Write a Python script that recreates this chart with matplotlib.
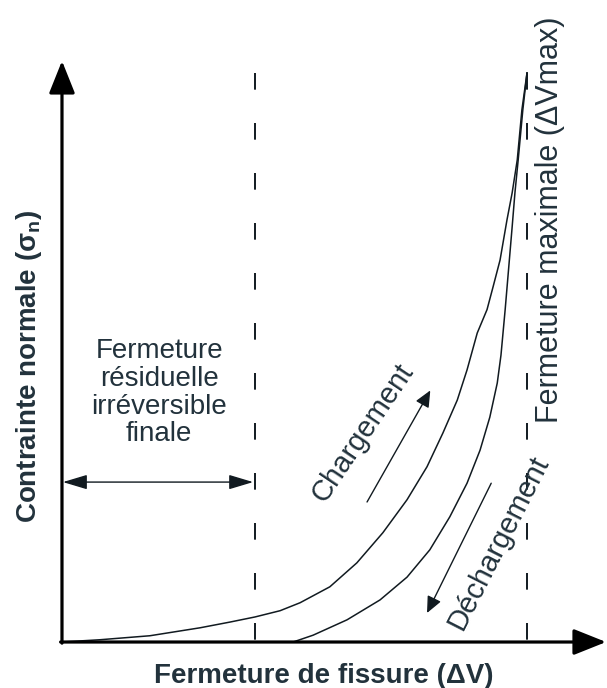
import numpy as np
import matplotlib
matplotlib.use("Agg")
import matplotlib.pyplot as plt

plt.rcParams['font.family'] = ['Liberation Sans', 'DejaVu Sans']
plt.rcParams['mathtext.fontset'] = 'custom'
plt.rcParams['mathtext.rm'] = 'Liberation Sans'
plt.rcParams['mathtext.bf'] = 'Liberation Sans:bold'
plt.rcParams['lines.scale_dashes'] = False

# normalised values: dV / dVmax and sigma / sigma_max
load_x = [0.000, 0.082, 0.189, 0.297, 0.361, 0.415, 0.469, 0.512, 0.576, 0.634,
          0.690, 0.742, 0.785, 0.819, 0.850, 0.871, 0.893, 0.914, 0.927,
          0.942, 0.957, 0.968, 0.979, 0.989, 1.000]
load_y = [0.000, 0.004, 0.011, 0.025, 0.035, 0.044, 0.055, 0.069, 0.097, 0.139,
          0.192, 0.250, 0.308, 0.367, 0.425, 0.478, 0.543, 0.584, 0.624,
          0.671, 0.742, 0.789, 0.847, 0.935, 1.000]
unload_x = [0.497, 0.540, 0.613, 0.684, 0.742, 0.791, 0.834, 0.871, 0.899, 0.920,
            0.936, 0.944, 0.953, 0.959, 0.968, 0.974, 0.981, 0.991, 1.000]
unload_y = [0.000, 0.012, 0.039, 0.074, 0.114, 0.162, 0.220, 0.279, 0.337, 0.395,
            0.455, 0.504, 0.584, 0.642, 0.729, 0.789, 0.847, 0.935, 1.000]
dv_residual = 0.415   # residual irreversible closure
dv_max = 1.0          # maximal closure

txt = '#22323c'
ink = '#111a20'

fig = plt.figure(figsize=(6.07, 6.88), dpi=100)
ax = fig.add_axes([0, 0, 1, 1])
ax.set_xlim(-0.1333, 1.172)
ax.set_ylim(-0.0808, 1.128)
ax.axis('off')

# axes with arrows
big = dict(arrowstyle='-|>,head_length=1.0,head_width=0.4', mutation_scale=20,
           lw=2.3, color='black', shrinkA=0, shrinkB=0)
ax.annotate('', xy=(1.17, 0), xytext=(-0.003, 0), arrowprops=big)
ax.annotate('', xy=(0, 1.021), xytext=(0, -0.002), arrowprops=big)

# dashed limits
for xv in [dv_residual, dv_max]:
    ax.plot([xv, xv], [1.0, 0.0], color=ink, lw=1.4, dashes=(12, 24))

# loading / unloading curves
ax.plot(load_x, load_y, color=ink, lw=1.1, solid_joinstyle='round')
ax.plot(unload_x, unload_y, color=ink, lw=1.1, solid_joinstyle='round')

# direction arrows
small = dict(arrowstyle='-|>,head_length=1.0,head_width=0.45', mutation_scale=10,
             lw=1.0, color=ink, shrinkA=0, shrinkB=0)
ax.annotate('', xy=(0.792, 0.442), xytext=(0.656, 0.246), arrowprops=small)
ax.annotate('', xy=(0.785, 0.051), xytext=(0.923, 0.279), arrowprops=small)

# residual closure double arrow
dbl = dict(arrowstyle='<|-|>,head_length=1.0,head_width=0.3', mutation_scale=15,
           lw=1.0, color=ink, shrinkA=0, shrinkB=0)
ax.annotate('', xy=(dv_residual - 0.004, 0.281), xytext=(0.002, 0.281), arrowprops=dbl)

ax.text(0.209, 0.438, 'Fermeture\nrésiduelle\nirréversible\nfinale', ha='center',
        va='center', multialignment='center', fontsize=20, color=txt, linespacing=1.08)
ax.text(0.647, 0.367, 'Chargement', rotation=56, rotation_mode='anchor',
        ha='center', va='center', fontsize=21, color=txt)
ax.text(0.938, 0.174, 'Déchargement', rotation=63, rotation_mode='anchor',
        ha='center', va='center', fontsize=21, color=txt)
ax.text(1.049, 0.742, 'Fermeture maximale (ΔVmax)', rotation=90,
        ha='center', va='center', fontsize=22, color=txt)

ax.text(0.563, -0.060, 'Fermeture de fissure (ΔV)', ha='center', va='center',
        fontsize=20, fontweight='bold', color=txt)
ax.text(-0.072, 0.485, r'Contrainte normale (σ$_\mathbf{n}$)', rotation=90,
        ha='center', va='center', fontsize=20, fontweight='bold', color=txt)

fig.savefig('out.png', dpi=100)
